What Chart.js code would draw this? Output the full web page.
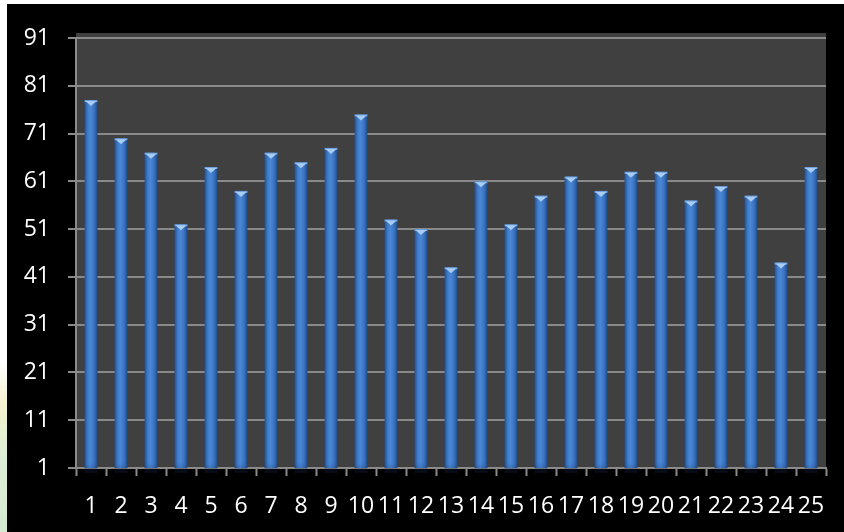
<!DOCTYPE html>
<html>
<head>
<meta charset="utf-8">
<script src="https://cdn.jsdelivr.net/npm/chart.js@4/dist/chart.umd.min.js"></script>
<style>
  html, body { margin: 0; padding: 0; }
  body {
    width: 844px; height: 532px; overflow: hidden; position: relative;
    background: #ffffff;
  }
  #edge {
    position: absolute; left: 0; top: 0; width: 7px; height: 532px;
    background: linear-gradient(to bottom, #ffffff 0%, #ffffff 68%, #f4f1cf 76%, #dcefd6 86%, #d4ead0 100%);
  }
  #wrap {
    position: absolute; left: 7px; top: 4px; width: 837px; height: 528px;
    background: #000000;
  }
  canvas { display: block; }
</style>
</head>
<body>
<div id="edge"></div>
<div id="wrap"><canvas id="chart" width="837" height="528"></canvas></div>
<script>
// Category labels along the bottom axis
const categories = ['1','2','3','4','5','6','7','8','9','10','11','12','13','14','15','16','17','18','19','20','21','22','23','24','25'];
// Bar heights
const values = [78, 70, 67, 52, 64, 59, 67, 65, 68, 75, 53, 51, 43, 61, 52, 58, 62, 59, 63, 63, 57, 60, 58, 44, 64];
// Value axis tick labels
const yTicks = [1, 11, 21, 31, 41, 51, 61, 71, 81, 91];

const GRID = '#8a8a8a';
const FONT = { family: '"Open Sans", sans-serif', size: 23 };

// Dark panel behind the plot, reaching a little above the top gridline
const plotPanel = {
  id: 'plotPanel',
  beforeDraw(chart) {
    const { ctx, chartArea: a } = chart;
    ctx.save();
    ctx.fillStyle = '#404040';
    ctx.fillRect(a.left, a.top - 5, a.right - a.left, a.bottom - a.top + 5);
    ctx.restore();
  }
};

// Light bevelled cap on top of every bar
const barCaps = {
  id: 'barCaps',
  afterDatasetsDraw(chart) {
    const { ctx } = chart;
    const meta = chart.getDatasetMeta(0);
    ctx.save();
    meta.data.forEach(bar => {
      const w = bar.width, x0 = bar.x - w / 2, x1 = bar.x + w / 2, y = bar.y;
      // thin top band
      ctx.fillStyle = '#6fa2df';
      ctx.fillRect(x0, y, w, 2);
      // downward pointing highlight
      ctx.beginPath();
      ctx.moveTo(x0 + 1, y + 1);
      ctx.lineTo(x1 - 1, y + 1);
      ctx.lineTo(bar.x, y + 6);
      ctx.closePath();
      ctx.fillStyle = '#a9cdf2';
      ctx.fill();
      // soft fade at the foot of the bar
      const g = ctx.createLinearGradient(0, bar.base - 10, 0, bar.base);
      g.addColorStop(0, 'rgba(20,40,80,0)');
      g.addColorStop(1, 'rgba(20,40,80,0.35)');
      ctx.fillStyle = g;
      ctx.fillRect(x0, bar.base - 10, w, 10);
    });
    ctx.restore();
  }
};

function barFill(context) {
  const chart = context.chart;
  const xs = chart.scales.x;
  if (!xs || context.dataIndex === undefined) return '#3a72c0';
  const cx = xs.getPixelForValue(context.dataIndex);
  if (!Number.isFinite(cx)) return '#3a72c0';
  const half = 6.5;
  const g = chart.ctx.createLinearGradient(cx - half, 0, cx + half, 0);
  g.addColorStop(0, '#24508f');
  g.addColorStop(0.25, '#3f7bc9');
  g.addColorStop(0.45, '#4a88d6');
  g.addColorStop(0.75, '#3a72c0');
  g.addColorStop(1, '#1f4a86');
  return g;
}

new Chart(document.getElementById('chart'), {
  type: 'bar',
  data: {
    labels: categories,
    datasets: [{
      data: values,
      backgroundColor: barFill,
      borderWidth: 0,
      barPercentage: 0.43,
      categoryPercentage: 1.0
    }]
  },
  options: {
    responsive: false,
    animation: false,
    events: [],
    layout: { padding: { left: 0, right: 18, top: 34, bottom: 0 } },
    plugins: { legend: { display: false }, tooltip: { enabled: false } },
    scales: {
      x: {
        grid: {
          display: true,
          drawOnChartArea: false,
          drawTicks: true,
          tickLength: 8,
          tickWidth: 2,
          color: GRID
        },
        border: { display: true, color: GRID, width: 2 },
        ticks: { color: '#ffffff', font: FONT, padding: 17, maxRotation: 0, autoSkip: false },
        afterFit(scale) { scale.height = 64; }
      },
      y: {
        min: 1,
        max: 91,
        afterBuildTicks(scale) { scale.ticks = yTicks.map(v => ({ value: v })); },
        grid: {
          color: GRID,
          lineWidth: 2,
          drawTicks: true,
          tickLength: 8
        },
        border: { display: true, color: GRID, width: 2 },
        ticks: { color: '#ffffff', font: FONT, padding: 18 },
        afterFit(scale) { scale.width = 69; }
      }
    }
  },
  plugins: [plotPanel, barCaps]
});
</script>
</body>
</html>
